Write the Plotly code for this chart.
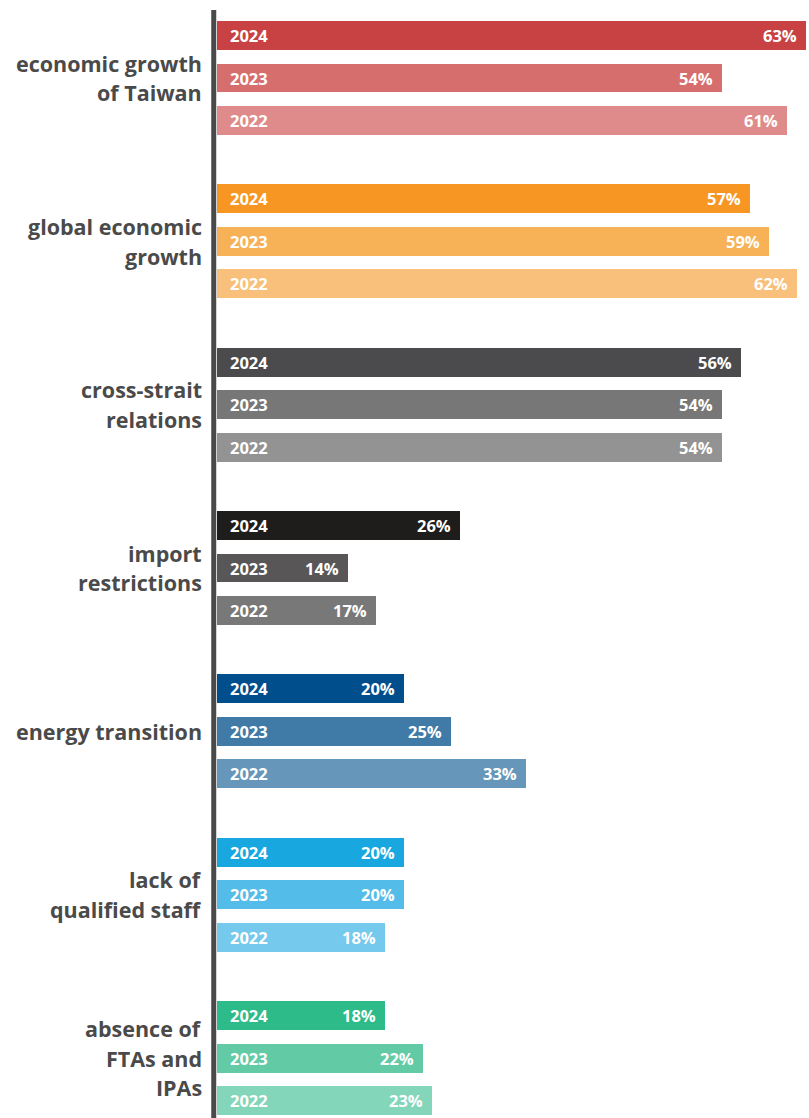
import plotly.graph_objects as go

# Issues named by respondents, share in percent, by survey year
categories = [
    "economic growth<br>of Taiwan",
    "global economic<br>growth",
    "cross-strait<br>relations",
    "import<br>restrictions",
    "energy transition",
    "lack of<br>qualified staff",
    "absence of<br>FTAs and<br>IPAs",
]
years = ["2024", "2023", "2022"]
values_2024 = [63, 57, 56, 26, 20, 20, 18]
values_2023 = [54, 59, 54, 14, 25, 20, 22]
values_2022 = [61, 62, 54, 17, 33, 18, 23]

colors_2024 = ["#C84143", "#F79622", "#4B4B4D", "#1F1D1C", "#014E8C", "#18A7DF", "#2EBB8A"]
colors_2023 = ["#D76E6E", "#F7B157", "#777777", "#585657", "#407BA7", "#53BCE8", "#62CBA6"]
colors_2022 = ["#E08B8B", "#F8C07A", "#939393", "#787878", "#6696BA", "#75C9EC", "#83D6B9"]

series = [
    (years[0], values_2024, colors_2024),
    (years[1], values_2023, colors_2023),
    (years[2], values_2022, colors_2022),
]

GROUP_STEP = 3.843   # distance between category blocks, in bar steps
BAR_WIDTH = 0.68
FONT = "Open Sans"
LABEL_COLOR = "#4A4A4A"
LINE_PX = 29.5       # line spacing of the category labels

fig = go.Figure()
annotations = []

for k, (year, vals, cols) in enumerate(series):
    ys = [g * GROUP_STEP + k for g in range(len(categories))]
    fig.add_trace(go.Bar(
        x=vals, y=ys, orientation="h", width=BAR_WIDTH,
        marker=dict(color=cols, line=dict(width=0)),
        name=year, showlegend=False, hoverinfo="x",
    ))
    for v, y in zip(vals, ys):
        annotations.append(dict(
            x=0, y=y, xref="x", yref="y", text=year, showarrow=False,
            xanchor="left", xshift=11,
            font=dict(family=FONT, size=16.5, color="white", weight="bold"),
        ))
        annotations.append(dict(
            x=v, y=y, xref="x", yref="y", text=f"{v}%", showarrow=False,
            xanchor="right", xshift=-7,
            font=dict(family=FONT, size=16.5, color="white", weight="bold"),
        ))

# category labels, one annotation per line so the leading can be set
for g, cat in enumerate(categories):
    lines = cat.split("<br>")
    n = len(lines)
    for i, line in enumerate(lines):
        annotations.append(dict(
            x=-0.022, y=g * GROUP_STEP + 1, xref="paper", yref="y", text=line,
            showarrow=False, xanchor="right", align="right",
            yshift=((n - 1) / 2 - i) * LINE_PX,
            font=dict(family=FONT, size=21.5, color=LABEL_COLOR, weight="bold"),
        ))

last_center = (len(categories) - 1) * GROUP_STEP + 2

fig.update_layout(
    width=809, height=1118,
    margin=dict(l=217, r=0, t=0, b=0),
    paper_bgcolor="white", plot_bgcolor="white",
    bargap=0,
    xaxis=dict(range=[0, 63.3], visible=False, fixedrange=True),
    yaxis=dict(range=[last_center + 0.41, -0.835], visible=False, fixedrange=True),
    annotations=annotations,
    shapes=[dict(
        type="line", xref="paper", yref="paper",
        x0=-0.0055, x1=-0.0055, y0=0, y1=0.991,
        line=dict(color="#4A4A4A", width=5),
    )],
)

fig.write_html("out.html")
